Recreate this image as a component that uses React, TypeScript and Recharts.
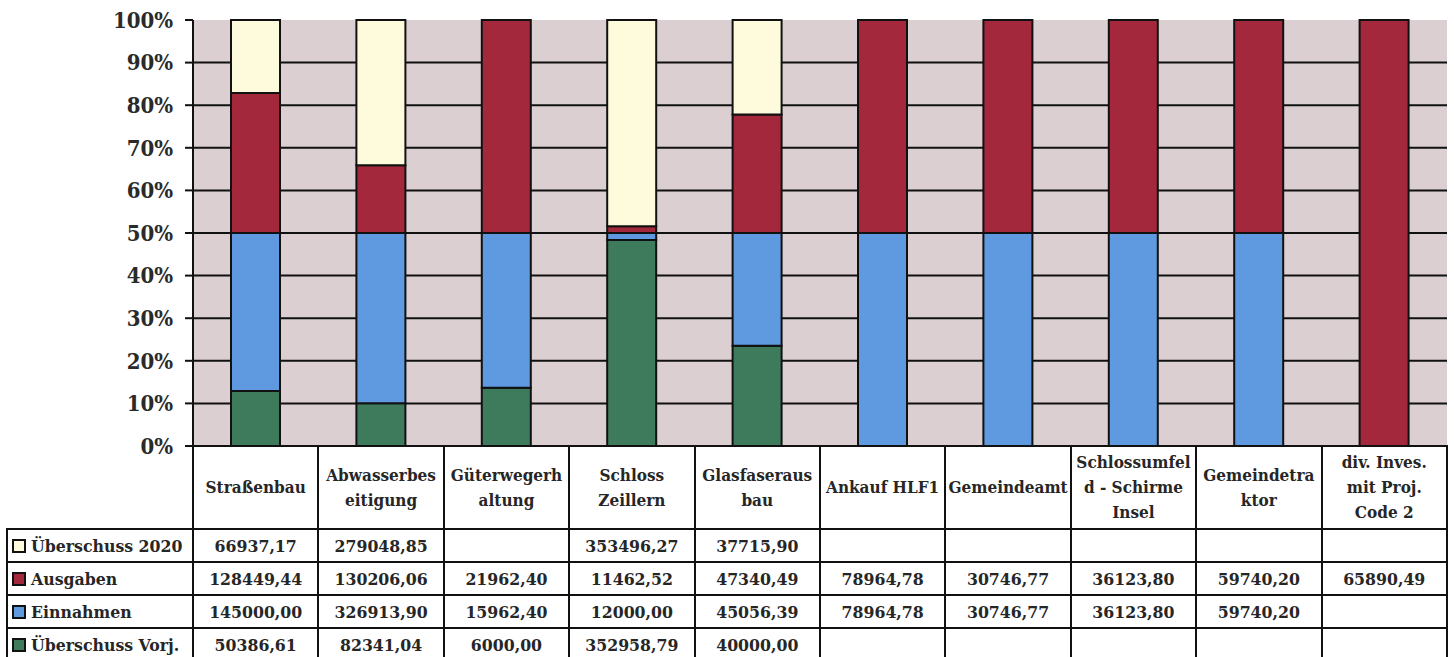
import React from 'react';
import { BarChart, Bar, XAxis, YAxis, CartesianGrid } from 'recharts';

const categories = [
  'Straßenbau',
  'Abwasserbeseitigung',
  'Güterwegerhaltung',
  'Schloss Zeillern',
  'Glasfaserausbau',
  'Ankauf HLF1',
  'Gemeindeamt',
  'Schlossumfeld - Schirme Insel',
  'Gemeindetraktor',
  'div. Inves. mit Proj. Code 2',
];

// header text as wrapped in the original table
const headerLabels = [
  'Straßenbau',
  'Abwasserbes\neitigung',
  'Güterwegerh\naltung',
  'Schloss\nZeillern',
  'Glasfaseraus\nbau',
  'Ankauf HLF1',
  'Gemeindeamt',
  'Schlossumfel\nd - Schirme\nInsel',
  'Gemeindetra\nktor',
  'div. Inves.\nmit Proj.\nCode 2',
];

const ueberschuss2020 = [66937.17, 279048.85, null, 353496.27, 37715.9, null, null, null, null, null];
const ausgaben = [128449.44, 130206.06, 21962.4, 11462.52, 47340.49, 78964.78, 30746.77, 36123.8, 59740.2, 65890.49];
const einnahmen = [145000.0, 326913.9, 15962.4, 12000.0, 45056.39, 78964.78, 30746.77, 36123.8, 59740.2, null];
const ueberschussVorj = [50386.61, 82341.04, 6000.0, 352958.79, 40000.0, null, null, null, null, null];

const yTicks = [0, 0.1, 0.2, 0.3, 0.4, 0.5, 0.6, 0.7, 0.8, 0.9, 1];
const gridValues = [0.1, 0.2, 0.3, 0.4, 0.5, 0.6, 0.7, 0.8, 0.9];

const COLORS = {
  u2020: '#fdfbdc',
  aus: '#a3283b',
  ein: '#5f99e0',
  vorj: '#3e7b5d',
};

// table rows, top to bottom as in the original
const rows = [
  { name: 'Überschuss 2020', color: COLORS.u2020, values: ueberschuss2020 },
  { name: 'Ausgaben', color: COLORS.aus, values: ausgaben },
  { name: 'Einnahmen', color: COLORS.ein, values: einnahmen },
  { name: 'Überschuss Vorj.', color: COLORS.vorj, values: ueberschussVorj },
];

const chartData = categories.map((name, i) => ({
  name,
  vorj: ueberschussVorj[i] ?? 0,
  ein: einnahmen[i] ?? 0,
  aus: ausgaben[i] ?? 0,
  u2020: ueberschuss2020[i] ?? 0,
}));

const FONT = "'DejaVu Serif Condensed', 'DejaVu Serif', serif";
const W = 1454;
const PLOT_LEFT = 193;
const PLOT_RIGHT = 1447;
const PLOT_TOP = 20;
const PLOT_BOTTOM = 446;
const COL_W = (PLOT_RIGHT - PLOT_LEFT) / categories.length;
const LABEL_LEFT = 7;

const fmt = (v: number | null) => (v == null ? '' : v.toFixed(2).replace('.', ','));

const cellStyle: React.CSSProperties = {
  border: '2px solid #111',
  padding: 0,
  textAlign: 'center',
  verticalAlign: 'middle',
  fontFamily: FONT,
  fontWeight: 'bold',
  fontSize: 17.5,
  color: '#262626',
  whiteSpace: 'pre-line',
  overflow: 'hidden',
};

export default function App() {
  return (
    <div style={{ position: 'absolute', left: 0, top: 0, width: W, height: 657, background: '#fff', overflow: 'hidden' }}>
      <BarChart
        width={W}
        height={PLOT_BOTTOM + 24}
        data={chartData}
        stackOffset="expand"
        barSize={49}
        margin={{ top: PLOT_TOP, right: W - PLOT_RIGHT, left: 0, bottom: 24 }}
      >
        <CartesianGrid
          vertical={false}
          horizontalValues={gridValues}
          stroke="#111"
          strokeWidth={2}
          fill="#dbcfd2"
          fillOpacity={1}
        />
        <XAxis dataKey="name" hide />
        <YAxis
          width={PLOT_LEFT}
          domain={[0, 1]}
          ticks={yTicks}
          tickFormatter={(v: number) => `${Math.round(v * 100)}%`}
          axisLine={{ stroke: '#111', strokeWidth: 2 }}
          tickLine={{ stroke: '#111', strokeWidth: 2 }}
          tickSize={8}
          tickMargin={12}
          tick={{ fill: '#2a2a2a', fontSize: 22, fontWeight: 'bold', fontFamily: FONT }}
          interval={0}
        />
        <Bar dataKey="vorj" stackId="a" fill={COLORS.vorj} stroke="#111" strokeWidth={2} isAnimationActive={false} />
        <Bar dataKey="ein" stackId="a" fill={COLORS.ein} stroke="#111" strokeWidth={2} isAnimationActive={false} />
        <Bar dataKey="aus" stackId="a" fill={COLORS.aus} stroke="#111" strokeWidth={2} isAnimationActive={false} />
        <Bar dataKey="u2020" stackId="a" fill={COLORS.u2020} stroke="#111" strokeWidth={2} isAnimationActive={false} />
      </BarChart>

      <table
        style={{
          position: 'absolute',
          left: LABEL_LEFT - 1,
          top: PLOT_BOTTOM - 1,
          borderCollapse: 'collapse',
          tableLayout: 'fixed',
          width: PLOT_RIGHT - LABEL_LEFT,
          background: 'transparent',
        }}
      >
        <colgroup>
          <col style={{ width: PLOT_LEFT - LABEL_LEFT }} />
          {categories.map((c) => (
            <col key={c} style={{ width: COL_W }} />
          ))}
        </colgroup>
        <tbody>
          <tr style={{ height: 83 }}>
            <td style={{ border: 'none', padding: 0 }} />
            {headerLabels.map((h, i) => (
              <td key={i} style={{ ...cellStyle, lineHeight: '25px', fontSize: 17, background: '#fff' }}>
                {h}
              </td>
            ))}
          </tr>
          {rows.map((r) => (
            <tr key={r.name} style={{ height: 33, background: '#fff' }}>
              <td style={{ ...cellStyle, textAlign: 'left', paddingLeft: 4, whiteSpace: 'nowrap' }}>
                <span
                  style={{
                    display: 'inline-block',
                    width: 10,
                    height: 10,
                    background: r.color,
                    border: '2px solid #111',
                    marginRight: 5,
                    verticalAlign: -1,
                  }}
                />
                {r.name}
              </td>
              {r.values.map((v, i) => (
                <td key={i} style={cellStyle}>
                  {fmt(v)}
                </td>
              ))}
            </tr>
          ))}
        </tbody>
      </table>
    </div>
  );
}
